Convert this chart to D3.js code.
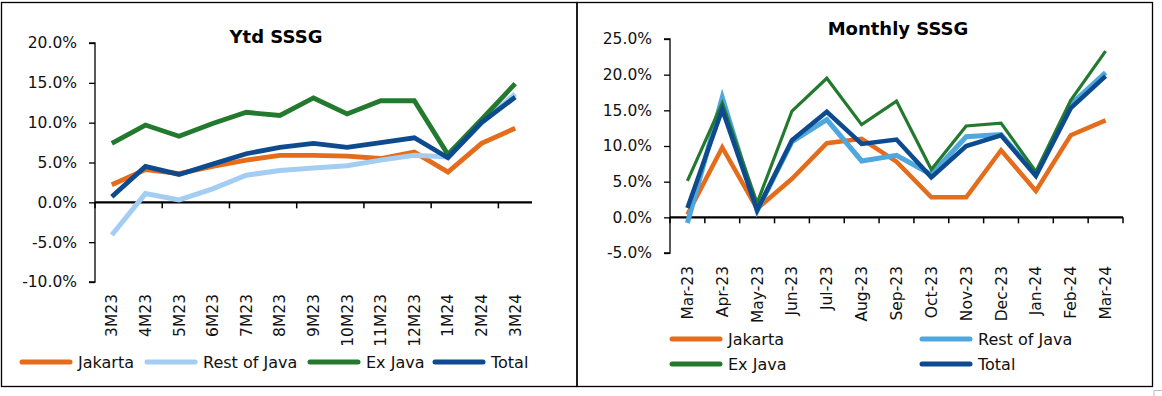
<!DOCTYPE html>
<html>
<head>
<meta charset="utf-8">
<script src="https://cdn.jsdelivr.net/npm/d3@7"></script>
<style>
  body { margin: 0; background: #fff; }
  svg { display: block; font-family: "DejaVu Sans", sans-serif; }
</style>
</head>
<body>
<div id="chart"></div>
<script>
// ---- data ----
let ytdLabels = ["3M23","4M23","5M23","6M23","7M23","8M23","9M23","10M23","11M23","12M23","1M24","2M24","3M24"];
let ytdJakarta = [2.2, 4.1, 3.6, 4.5, 5.3, 5.9, 5.9, 5.8, 5.5, 6.3, 3.8, 7.4, 9.3];
let ytdRestJava = [-4.1, 1.1, 0.3, 1.7, 3.4, 4.0, 4.3, 4.6, 5.3, 5.9, 5.7, 10.0, 13.6];
let ytdExJava = [7.4, 9.7, 8.3, 9.9, 11.3, 10.9, 13.1, 11.1, 12.75, 12.75, 6.0, 10.4, 14.9];
let ytdTotal = [0.7, 4.5, 3.5, 4.8, 6.1, 6.9, 7.4, 6.9, 7.5, 8.1, 5.6, 10.0, 13.2];

let monLabels = ["Mar-23","Apr-23","May-23","Jun-23","Jul-23","Aug-23","Sep-23","Oct-23","Nov-23","Dec-23","Jan-24","Feb-24","Mar-24"];
let monJakarta = [0.4, 9.8, 1.2, 5.4, 10.4, 11.0, 7.8, 2.8, 2.8, 9.4, 3.7, 11.5, 13.6];
let monRestJava = [-0.8, 16.8, 0.9, 10.6, 13.7, 7.9, 8.7, 6.0, 11.3, 11.6, 6.0, 15.8, 20.3];
let monExJava = [5.1, 16.0, 2.0, 14.9, 19.5, 13.0, 16.3, 6.7, 12.8, 13.2, 6.4, 16.4, 23.3];
let monTotal = [1.3, 15.1, 1.0, 10.8, 14.8, 10.3, 10.9, 5.6, 10.0, 11.5, 5.8, 15.3, 19.8];

let seriesNames = ["Jakarta", "Rest of Java", "Ex Java", "Total"];

let width = 1162, height = 396;
let svg = d3.select("#chart").append("svg")
    .attr("width", width)
    .attr("height", height);

// panel borders
svg.append("rect").attr("x", 1.5).attr("y", 2.5).attr("width", 575.5).attr("height", 384)
    .attr("fill", "none").attr("stroke", "#000").attr("stroke-width", 1.3);
svg.append("rect").attr("x", 577).attr("y", 2.5).attr("width", 575.5).attr("height", 384)
    .attr("fill", "none").attr("stroke", "#000").attr("stroke-width", 1.3);
// little corner mark bottom right
svg.append("path").attr("d", "M1154,398 V390.5 H1162").attr("fill", "none").attr("stroke", "#bbb").attr("stroke-width", 1);

// plain hyphen for negatives, like the original
let fmt = d => d.toFixed(1) + "%";

function drawChart(opt) {
    let g = svg.append("g");
    let x = d3.scaleBand().domain(opt.labels).range([opt.x0, opt.x1]);
    let y = d3.scaleLinear().domain([opt.ymin, opt.ymax]).range([opt.y0, opt.y1]);

    // y axis
    let yAxis = g.append("g")
        .attr("transform", "translate(" + opt.x0 + ",0)")
        .call(d3.axisLeft(y).tickValues(d3.range(opt.ymin, opt.ymax + 0.1, 5)).tickFormat(fmt).tickSize(6).tickPadding(12));
    yAxis.select(".domain").attr("stroke", "#000").attr("stroke-width", 1.3).attr("d", "M-6," + y(opt.ymin) + "H0V" + y(opt.ymax) + "H-6");
    yAxis.selectAll(".tick line").attr("stroke", "#000").attr("stroke-width", 1.3);
    yAxis.selectAll("text").attr("font-size", 15.5).attr("font-family", "DejaVu Sans").attr("fill", "#111");

    // zero line with ticks
    let zero = g.append("g").attr("transform", "translate(0," + y(0) + ")");
    zero.append("line").attr("x1", opt.x0).attr("x2", opt.x1)
        .attr("stroke", "#000").attr("stroke-width", 2.2);
    let tickPos = [];
    for (let i = 0; i <= opt.labels.length; i += opt.tickEvery) {
        tickPos.push(opt.x0 + i * x.step());
    }
    zero.selectAll(".tk").data(tickPos).enter().append("line")
        .attr("x1", d => d).attr("x2", d => d).attr("y1", 0).attr("y2", 6)
        .attr("stroke", "#000").attr("stroke-width", 1.5);

    // category labels rotated
    g.selectAll(".xl").data(opt.labels).enter().append("text")
        .attr("transform", d => "translate(" + (x(d) + x.bandwidth() / 2 + 5.5) + "," + opt.labelTop + ") rotate(-90)")
        .attr("text-anchor", "end")
        .attr("font-size", 15.5)
        .attr("fill", "#111")
        .text(d => d);

    // lines
    let line = d3.line()
        .x((d, i) => x(opt.labels[i]) + x.bandwidth() / 2)
        .y(d => y(d));
    opt.series.forEach(function(s) {
        g.append("path").datum(s.values)
            .attr("d", line)
            .attr("fill", "none")
            .attr("stroke", s.color)
            .attr("stroke-width", s.w)
            .attr("stroke-linejoin", "miter");
    });

    // title
    g.append("text").attr("x", opt.titleX).attr("y", opt.titleY)
        .attr("text-anchor", "middle").attr("font-weight", "bold").attr("font-size", 18)
        .attr("fill", "#000").text(opt.title);

    // legend
    opt.legend.forEach(function(l, i) {
        let s = opt.series[i];
        g.append("line").attr("x1", l[0]).attr("x2", l[0] + 48).attr("y1", l[1]).attr("y2", l[1])
            .attr("stroke", s.color).attr("stroke-width", 5).attr("stroke-linecap", "round");
        g.append("text").attr("x", l[0] + 56).attr("y", l[1] + 6)
            .attr("font-size", 16).attr("fill", "#111").text(seriesNames[i]);
    });
}

drawChart({
    labels: ytdLabels,
    x0: 95, x1: 532, y0: 282, y1: 43, ymin: -10, ymax: 20,
    tickEvery: 2, labelTop: 294,
    title: "Ytd SSSG", titleX: 276, titleY: 43,
    series: [
        {values: ytdJakarta, color: "#E46C1A", w: 4.8},
        {values: ytdRestJava, color: "#A3CDF3", w: 5},
        {values: ytdExJava, color: "#237A2F", w: 4.8},
        {values: ytdTotal, color: "#0E4A8E", w: 4.8}
    ],
    legend: [[22, 362], [147, 362], [310, 362], [435, 362]]
});

drawChart({
    labels: monLabels,
    x0: 670, x1: 1123, y0: 253, y1: 39, ymin: -5, ymax: 25,
    tickEvery: 1, labelTop: 266,
    title: "Monthly SSSG", titleX: 898, titleY: 35,
    series: [
        {values: monJakarta, color: "#E46C1A", w: 4.5},
        {values: monRestJava, color: "#4EA7DD", w: 5},
        {values: monExJava, color: "#237A2F", w: 3.2},
        {values: monTotal, color: "#0E4A8E", w: 4.5}
    ],
    legend: [[672, 339], [922, 339], [672, 364], [922, 364]]
});
</script>
</body>
</html>
